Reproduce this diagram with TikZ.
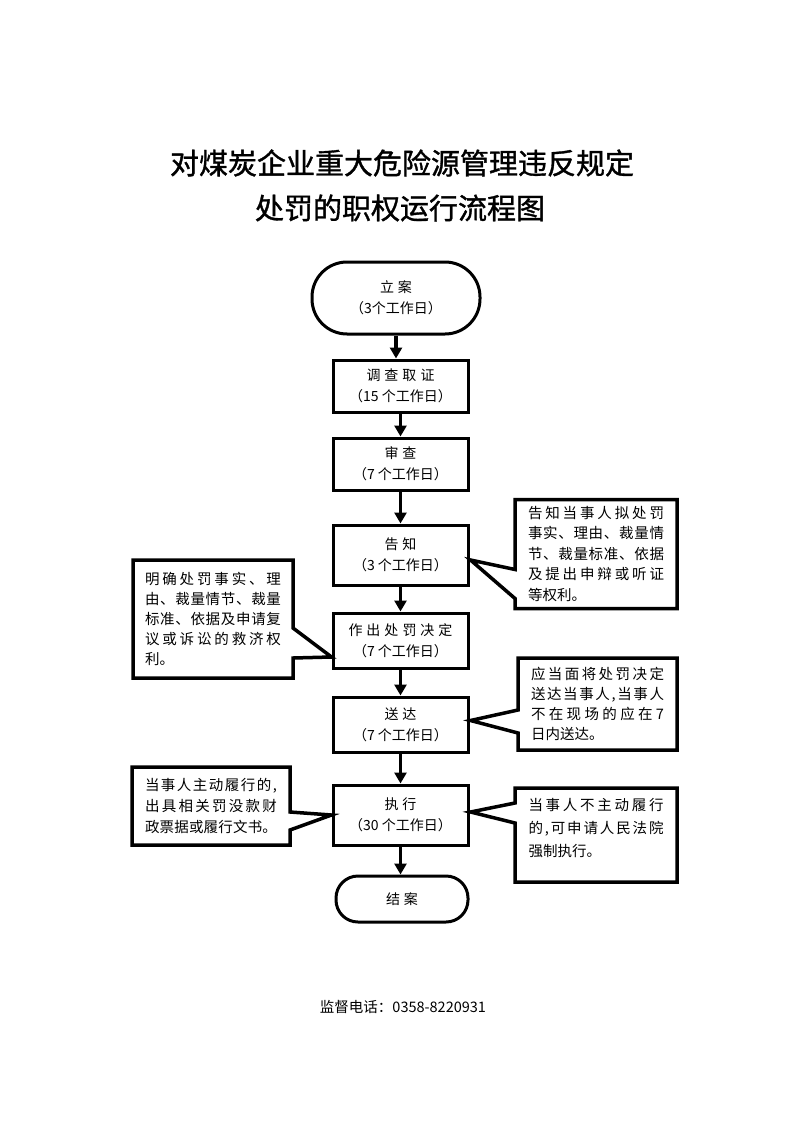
\documentclass[tikz,border=0pt]{standalone}
\usepackage{fontspec}
\setmainfont{Noto Sans CJK SC}
\newfontfamily\titlefont[FakeBold=1.2]{Noto Sans CJK SC}
\usetikzlibrary{arrows.meta,calc}
\makeatletter
% justified line: spread characters to a given width
\def\jl#1#2{\hbox to #1{\jl@a#2\relax}}
\def\jl@a#1{#1\jl@b}
\def\jl@b#1{\ifx#1\relax\else\hfil#1\expandafter\jl@b\fi}
% letter-spaced word
\def\ks#1{\ks@a#1\relax}
\def\ks@a#1{#1\ks@b}
\def\ks@b#1{\ifx#1\relax\else\kern4pt#1\expandafter\ks@b\fi}
\makeatother
\begin{document}
\begin{tikzpicture}[x=1pt,y=-1pt,
  box/.style={draw,line width=3pt,minimum width=135pt,inner sep=0pt,
    font=\fontsize{14}{21}\selectfont,align=center},
  term/.style={box},
  flow/.style={line width=3.5pt,-{Triangle[length=11pt,width=12pt]}},
  callout/.style={draw,line width=3.5pt,line join=miter},
  ctext/.style={inner sep=0pt,outer sep=0pt,align=left},
  titlestyle/.style={font=\titlefont\fontsize{29}{35}\selectfont}]
\useasboundingbox (0,0) rectangle (794,1123);

% title
\node[titlestyle] (t1) at (402,163) {对煤炭企业重大危险源管理违反规定};
\node[titlestyle] (t2) at (400,208) {处罚的职权运行流程图};

% main flow
\node[term,minimum width=168pt,minimum height=72pt,rounded corners=35pt] (la) at (396,298) {\ks{立案}\\（3个工作日）};
\node[box,minimum height=52pt] (dc) at (400.5,386) {\ks{调查取证}\\（15 个工作日）};
\node[box,minimum height=52pt] (sc) at (400.5,464) {\ks{审查}\\（7 个工作日）};
\node[box,minimum height=60pt] (gz) at (400.5,555) {\ks{告知}\\（3 个工作日）};
\node[box,minimum height=55pt] (zc) at (400.5,640.5) {\ks{作出处罚决定}\\（7 个工作日）};
\node[box,minimum height=55pt] (sd) at (400.5,724.5) {\ks{送达}\\（7 个工作日）};
\node[box,minimum height=60pt] (zx) at (400.5,815) {\ks{执行}\\（30 个工作日）};
\node[term,minimum width=132pt,minimum height=46pt,rounded corners=22pt] (ja) at (402,899) {\ks{结案}};

\draw[flow] (la.south) -- (la.south |- dc.north);
\draw[flow] (dc.south) -- (sc.north);
\draw[flow] (sc.south) -- (gz.north);
\draw[flow] (gz.south) -- (zc.north);
\draw[flow] (zc.south) -- (sd.north);
\draw[flow] (sd.south) -- (zx.north);
\draw[flow] (zx.south) -- (zx.south |- ja.north);

% callout 1 (right of 告知)
\node[ctext,minimum width=162pt,minimum height=109pt,font=\fontsize{14.5}{20.5}\selectfont] (c1) at (596,554) {%
\jl{136pt}{告知当事人拟处罚}\\
\jl{136pt}{事实、理由、裁量情}\\
\jl{136pt}{节、裁量标准、依据}\\
\jl{136pt}{及提出申辩或听证}\\
等权利。};
\draw[callout] (c1.north west) -- (c1.north east) -- (c1.south east) -- (c1.south west)
  -- ($(c1.north west)+(0,99)$) -- ($(gz.east)+(1,5)$) -- ($(c1.north west)+(0,70)$) -- cycle;

% callout 2 (left of 作出处罚决定)
\node[ctext,minimum width=160pt,minimum height=118pt,font=\fontsize{14.5}{20}\selectfont] (c2) at (213,619) {%
\jl{136pt}{明确处罚事实、理}\\
\jl{136pt}{由、裁量情节、裁量}\\
\jl{136pt}{标准、依据及申请复}\\
\jl{136pt}{议或诉讼的救济权}\\
利。};
\draw[callout] (c2.north west) -- (c2.north east) -- ($(c2.north east)+(0,68)$)
  -- ($(zc.west)+(0,16.5)$) -- ($(c2.north east)+(0,98)$) -- (c2.south east) -- (c2.south west) -- cycle;

% callout 3 (right of 送达)
\node[ctext,minimum width=159pt,minimum height=92pt,font=\fontsize{14.5}{20}\selectfont] (c3) at (597.5,704) {%
\jl{133pt}{应当面将处罚决定}\\
\jl{133pt}{送达当事人,当事人}\\
\jl{133pt}{不在现场的应在7}\\
日内送达。};
\draw[callout] (c3.north west) -- (c3.north east) -- (c3.south east) -- (c3.south west)
  -- ($(c3.north west)+(0,75)$) -- ($(sd.east)+(1,-4)$) -- ($(c3.north west)+(0,52)$) -- cycle;

% callout 4 (left of 执行)
\node[ctext,minimum width=158pt,minimum height=78pt,font=\fontsize{14.5}{21}\selectfont] (c4) at (211,806) {%
\jl{132pt}{当事人主动履行的,}\\
\jl{132pt}{出具相关罚没款财}\\
\jl{132pt}{政票据或履行文书。}};
\draw[callout] (c4.north west) -- (c4.north east) -- ($(c4.north east)+(0,45)$)
  -- (zx.west) -- ($(c4.north east)+(0,63)$) -- (c4.south east) -- (c4.south west) -- cycle;

% callout 5 (right of 执行)
\node[ctext,minimum width=162pt,minimum height=94pt,font=\fontsize{14.5}{23}\selectfont] (c5) at (596,835) {%
\jl{135pt}{当事人不主动履行}\\
\jl{135pt}{的,可申请人民法院}\\
强制执行。\\[-7pt]\mbox{}};
\draw[callout] (c5.north west) -- (c5.north east) -- (c5.south east) -- (c5.south west)
  -- ($(c5.north west)+(0,35)$) -- ($(zx.east)+(1,-3)$) -- ($(c5.north west)+(0,15)$) -- cycle;

% footer
\node[font=\fontsize{14.5}{18}\selectfont] (ft) at (403,1007) {监督电话：0358-8220931};
\end{tikzpicture}
\end{document}
